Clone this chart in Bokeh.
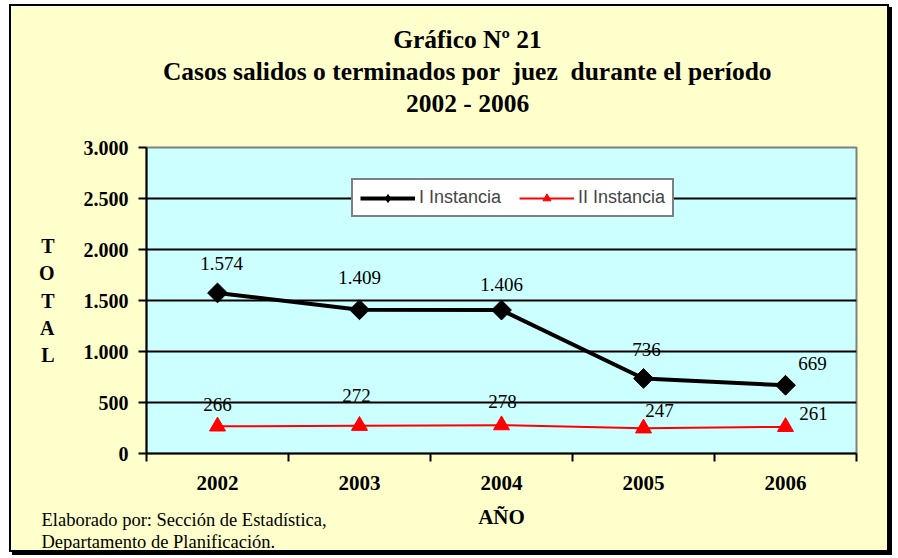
from bokeh.plotting import figure
from bokeh.models import ColumnDataSource, Legend, LegendItem, FixedTicker, Title
from bokeh.core.properties import value
from bokeh.embed import file_html
from bokeh.resources import INLINE
import math

# ---- data ----
years = ["2002", "2003", "2004", "2005", "2006"]
primera = [1574, 1409, 1406, 736, 669]
segunda = [266, 272, 278, 247, 261]
y_ticks = [0, 500, 1000, 1500, 2000, 2500, 3000]
y_tick_labels = ["0", "500", "1.000", "1.500", "2.000", "2.500", "3.000"]
title_lines = ["Gráfico Nº 21",
               "Casos salidos o terminados por \u00a0juez \u00a0durante el período",
               "2002 - 2006"]
y_title = "TOTAL"
x_title = "AÑO"
footer_lines = ["Elaborado por: Sección de Estadística,",
                "Departamento de Planificación."]

# label offsets (pixels) - style only
off1_x = [4, 0, 0, 3, 27]
off1_y = [-29, -32, -26, -29, -22]
off2_x = [0, -3, 1, 16, 28]
off2_y = [-22, -30, -24, -18, -13]

def fmt(v):
    return f"{v:,}".replace(",", ".")

xs = [i + 0.5 for i in range(len(years))]

src1 = ColumnDataSource(dict(x=xs, y=primera, t=[fmt(v) for v in primera], dx=off1_x, dy=off1_y))
src2 = ColumnDataSource(dict(x=xs, y=segunda, t=[fmt(v) for v in segunda], dx=off2_x, dy=off2_y))

SERIF = "Liberation Serif"

p = figure(width=880, height=548, output_backend="svg", toolbar_location=None,
           x_range=(0, len(years)), y_range=(0, 3000),
           min_border_left=135, min_border_right=35, min_border_top=141, min_border_bottom=101)
p.styles = {"border": "2px solid black", "box-shadow": "3px 3px 0px 0px black",
            "margin-left": "9px", "margin-top": "4px"}
p.background_fill_color = "#CCFFFF"
p.border_fill_color = "#FFFFCC"
p.outline_line_color = "#808080"
p.outline_line_width = 2

# grid
p.xgrid.visible = False
p.ygrid.grid_line_color = "black"
p.ygrid.grid_line_width = 2
p.ygrid.ticker = FixedTicker(ticks=y_ticks[1:-1])

# y axis
yax = p.yaxis[0]
yax.ticker = FixedTicker(ticks=y_ticks)
yax.major_label_overrides = {t: l for t, l in zip(y_ticks, y_tick_labels)}
yax.major_label_text_font = SERIF
yax.major_label_text_font_style = "bold"
yax.major_label_text_font_size = "20px"
yax.major_label_text_color = "black"
yax.axis_line_width = 2
yax.axis_line_color = "black"
yax.major_tick_line_width = 2
yax.major_tick_line_color = "black"
yax.major_tick_out = 8
yax.major_tick_in = 0
yax.minor_tick_line_color = None
yax.major_label_standoff = 10
yax.axis_label_text_font = SERIF
yax.axis_label_text_font_style = "bold"
yax.axis_label_text_font_size = "20px"
yax.axis_label_text_color = "black"
if "axis_label_orientation" in yax.properties():
    yax.axis_label = "\n".join(y_title)
    yax.axis_label_orientation = "horizontal"
    yax.axis_label_text_line_height = 1.24
    yax.axis_label_standoff = 26
else:
    yax.axis_label = y_title
    yax.axis_label_standoff = 26

# x axis
xax = p.xaxis[0]
xax.ticker = FixedTicker(ticks=xs, minor_ticks=list(range(len(years) + 1)))
xax.major_label_overrides = {x: y for x, y in zip(xs, years)}
xax.major_label_text_font = SERIF
xax.major_label_text_font_style = "bold"
xax.major_label_text_font_size = "21px"
xax.major_label_text_color = "black"
xax.major_tick_line_color = None
xax.major_tick_out = 0
xax.major_tick_in = 0
xax.minor_tick_line_color = "black"
xax.minor_tick_line_width = 2
xax.minor_tick_out = 8
xax.minor_tick_in = 0
xax.axis_line_width = 2
xax.axis_line_color = "black"
xax.major_label_standoff = 14
xax.axis_label = x_title
xax.axis_label_text_font = SERIF
xax.axis_label_text_font_style = "bold"
xax.axis_label_text_font_size = "21px"
xax.axis_label_text_color = "black"
xax.axis_label_standoff = 12

# series
l1 = p.line("x", "y", source=src1, line_color="black", line_width=4)
# diamond used as legend key; hidden under the larger rotated square in the plot
m1_key = p.scatter("x", "y", source=src1, marker="diamond", size=14,
                   fill_color="black", line_color="black")
p.scatter("x", "y", source=src1, marker="square", size=14, angle=math.pi / 4,
          fill_color="black", line_color="black")
l2 = p.line("x", "y", source=src2, line_color="red", line_width=2)
m2 = p.scatter("x", "y", source=src2, marker="triangle", size=16,
               fill_color="red", line_color="red")

# data labels
for src in (src1, src2):
    p.text("x", "y", text="t", source=src, x_offset="dx", y_offset="dy",
           text_font=value(SERIF), text_font_size="19px", text_color="black",
           text_align="center", text_baseline="middle")

legend = Legend(items=[LegendItem(label="I Instancia", renderers=[l1, m1_key]),
                       LegendItem(label="II Instancia", renderers=[l2, m2])],
                orientation="horizontal", location=(205, 236),
                label_text_font="Liberation Sans", label_text_font_size="18px",
                label_standoff=4, glyph_width=55, glyph_height=20,
                spacing=18, padding=7, margin=0,
                border_line_color="black", border_line_width=2,
                background_fill_color="white", background_fill_alpha=1.0)
p.add_layout(legend, "center")

# ---- title block (side panel titles; first added sits nearest the frame) ----
p.add_layout(Title(text=" ", text_font_size="1px", standoff=26), "above")   # spacer
title_offsets = [246.7, 16.4, 259.4]
for line, off in reversed(list(zip(title_lines, title_offsets))):
    p.add_layout(Title(text=line, align="left", offset=off, standoff=1,
                       text_font=SERIF, text_font_style="bold", text_font_size="25.5px",
                       text_color="black"), "above")

# ---- footer (below the x axis, pulled up) ----
p.add_layout(Title(text="\n".join(footer_lines), align="left", offset=-105,
                   vertical_align="top", standoff=-44,
                   text_font=SERIF, text_font_style="normal", text_font_size="18.5px",
                   text_line_height=1.1, text_color="black"), "below")

open("out.html", "w").write(file_html(p, INLINE))
